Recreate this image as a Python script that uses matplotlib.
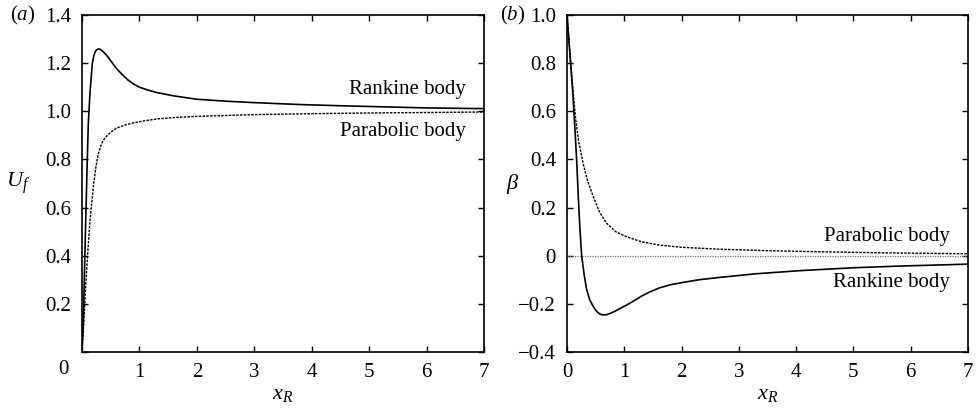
import matplotlib
matplotlib.use("Agg")
import matplotlib.pyplot as plt

plt.rcParams["font.family"] = ["Liberation Serif", "DejaVu Serif"]
plt.rcParams["mathtext.fontset"] = "custom"
plt.rcParams["mathtext.rm"] = "Liberation Serif"
plt.rcParams["mathtext.it"] = "Liberation Serif:italic"

# (a) U_f against x_R
ua_rankine_x = [0, 0.02, 0.045, 0.065, 0.09, 0.11, 0.14, 0.18, 0.21, 0.24, 0.27, 0.3, 0.35,
                0.4, 0.45, 0.5, 0.56, 0.63, 0.7, 0.8, 0.9, 1.0, 1.15, 1.3, 1.6, 2.0, 2.5,
                3.0, 3.8, 4.5, 5.0, 6.0, 7.0]
ua_rankine_y = [0, 0.1, 0.35, 0.55, 0.78, 0.95, 1.08, 1.2, 1.235, 1.252, 1.258, 1.259, 1.252,
                1.24, 1.226, 1.21, 1.19, 1.17, 1.153, 1.13, 1.113, 1.10, 1.088, 1.078, 1.064,
                1.05, 1.042, 1.036, 1.028, 1.023, 1.02, 1.014, 1.011]
ua_parab_x = [0, 0.005, 0.035, 0.064, 0.1, 0.14, 0.2, 0.24, 0.28, 0.34, 0.4, 0.5, 0.6, 0.75,
              0.9, 1.1, 1.3, 1.6, 2.0, 3.0, 4.0, 5.0, 6.0, 7.0]
ua_parab_y = [0, 0.026, 0.137, 0.275, 0.413, 0.55, 0.69, 0.765, 0.82, 0.865, 0.89, 0.913,
              0.93, 0.943, 0.952, 0.961, 0.968, 0.974, 0.979, 0.986, 0.99, 0.993, 0.995, 0.997]

# (b) beta against x_R
b_rankine_x = [0, 0.05, 0.1, 0.14, 0.17, 0.197, 0.227, 0.256, 0.3, 0.344, 0.4, 0.46, 0.5,
               0.54, 0.58, 0.63, 0.69, 0.75, 0.82, 0.88, 0.95, 1.04, 1.15, 1.3, 1.45, 1.62,
               1.8, 2.0, 2.3, 2.67, 3.3, 4.07, 5.0, 5.81, 7.0]
b_rankine_y = [1.0, 0.84, 0.68, 0.52, 0.39, 0.245, 0.107, 0.0, -0.08, -0.142, -0.185, -0.212,
               -0.226, -0.236, -0.243, -0.246, -0.245, -0.24, -0.233, -0.225, -0.216, -0.205,
               -0.19, -0.168, -0.15, -0.133, -0.121, -0.112, -0.1, -0.09, -0.075, -0.062,
               -0.05, -0.043, -0.035]
b_parab_x = [0, 0.05, 0.1, 0.15, 0.2, 0.28, 0.36, 0.46, 0.57, 0.69, 0.85, 1.04, 1.3, 1.62,
             2.0, 2.67, 3.5, 4.5, 5.5, 7.0]
b_parab_y = [1.0, 0.85, 0.7, 0.57, 0.48, 0.385, 0.31, 0.245, 0.18, 0.135, 0.1, 0.079, 0.058,
             0.044, 0.035, 0.027, 0.021, 0.016, 0.012, 0.008]

ticks_x = [0, 1, 2, 3, 4, 5, 6, 7]
ticks_ya = [0, 0.2, 0.4, 0.6, 0.8, 1.0, 1.2, 1.4]
ticks_yb = [-0.4, -0.2, 0, 0.2, 0.4, 0.6, 0.8, 1.0]

FS = 15
dash = (0, (1.8, 0.9))

fig = plt.figure(figsize=(9.79, 4.09), dpi=100)
ax1 = fig.add_axes([82 / 979, 1 - 352 / 409, 402 / 979, 337 / 409])
ax2 = fig.add_axes([567 / 979, 1 - 352 / 409, 401 / 979, 337 / 409])

for ax in (ax1, ax2):
    ax.set_xlim(0, 7)
    ax.set_xticks(ticks_x)
    ax.tick_params(direction="in", top=True, right=True, length=4, width=1,
                   labelsize=FS, pad=8)
    for sp in ax.spines.values():
        sp.set_linewidth(1.2)

# panel (a)
ax1.plot(ua_rankine_x, ua_rankine_y, color="black", lw=1.2)
ax1.plot(ua_parab_x, ua_parab_y, color="black", lw=1.0, linestyle=dash)
ax1.set_ylim(0, 1.4)
ax1.set_yticks(ticks_ya)
ax1.set_yticklabels(["" if v == 0 else f"{v:.1f}" for v in ticks_ya])
ax1.set_xticklabels(["" if v == 0 else str(v) for v in ticks_x])
ax1.annotate("0", xy=(0, 0), xytext=(-19, -18), textcoords="offset pixels",
             ha="center", va="center", fontsize=FS)
ax1.text(6.68, 1.089, "Rankine body", ha="right", va="center", fontsize=FS)
ax1.text(6.68, 0.915, "Parabolic body", ha="right", va="center", fontsize=FS)
ax1.set_ylabel("$U_f$", fontsize=FS + 1, rotation=0, va="center")
ax1.yaxis.set_label_coords(-0.16, 0.5)
ax1.set_xlabel("$x_R$", fontsize=FS + 1, labelpad=2)
fig.text(10 / 979, 1 - 15 / 409, "($a$)", fontsize=FS, ha="left", va="center")

# panel (b)
ax2.axhline(0, color="0.45", lw=0.9, linestyle=(0, (1, 1)))
ax2.plot(b_rankine_x, b_rankine_y, color="black", lw=1.2)
ax2.plot(b_parab_x, b_parab_y, color="black", lw=1.0, linestyle=dash)
ax2.set_ylim(-0.4, 1.0)
ax2.set_yticks(ticks_yb)
ax2.set_yticklabels(["0" if v == 0 else f"{v:.1f}".replace("-", "\u2212") for v in ticks_yb])
ax2.text(6.68, 0.079, "Parabolic body", ha="right", va="center", fontsize=FS)
ax2.text(6.68, -0.113, "Rankine body", ha="right", va="center", fontsize=FS)
ax2.set_ylabel(r"$\beta$", fontsize=FS + 1, rotation=0, va="center")
ax2.yaxis.set_label_coords(-0.135, 0.5)
ax2.set_xlabel("$x_R$", fontsize=FS + 1, labelpad=2)
fig.text(500 / 979, 1 - 15 / 409, "($b$)", fontsize=FS, ha="left", va="center")

fig.savefig("out.png", dpi=100)
